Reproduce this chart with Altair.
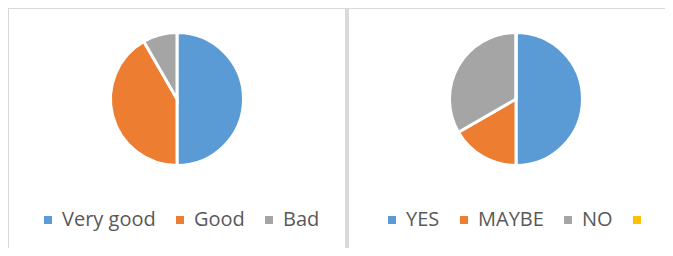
import altair as alt
import pandas as pd

# data
rating_labels = ["Very good", "Good", "Bad"]
rating_counts = [12, 10, 2]
answer_labels = ["YES", "MAYBE", "NO", ""]
answer_counts = [6, 2, 4, 0]

office_colors = ["#5B9BD5", "#ED7D31", "#A5A5A5", "#FFC000"]

rating_df = pd.DataFrame({"rating": rating_labels, "count": rating_counts,
                          "idx": list(range(len(rating_labels)))})
answer_df = pd.DataFrame({"answer": answer_labels, "count2": answer_counts,
                          "idx2": list(range(len(answer_labels)))})
deco = pd.DataFrame({"k": [0]})

W = 657
H = 240
BORDER = "#D9D9D9"

def legend(x):
    return alt.Legend(title=None, orient="none", legendX=x, legendY=202,
                      direction="horizontal", symbolType="square", symbolSize=64,
                      symbolStrokeWidth=0, labelFont="Open Sans", labelFontSize=20,
                      labelColor="#595959", labelOffset=4, columnPadding=14,
                      padding=0)

left_pie = alt.Chart(rating_df).mark_arc(outerRadius=66.5, stroke="white", strokeWidth=3).encode(
    theta=alt.Theta("count:Q", stack=True),
    color=alt.Color("rating:N", scale=alt.Scale(domain=rating_labels, range=office_colors[:3]),
                    legend=legend(30)),
    order=alt.Order("idx:Q"),
    x=alt.value(169), y=alt.value(91),
)
right_pie = alt.Chart(answer_df).mark_arc(outerRadius=66.5, stroke="white", strokeWidth=3).encode(
    theta=alt.Theta("count2:Q", stack=True),
    color=alt.Color("answer:N", scale=alt.Scale(domain=answer_labels, range=office_colors),
                    legend=legend(374)),
    order=alt.Order("idx2:Q"),
    x=alt.value(508), y=alt.value(91),
)

top_line = alt.Chart(deco).mark_rule(color=BORDER, strokeWidth=1).encode(
    x=alt.value(0), x2=alt.value(W), y=alt.value(0.5))
left_side = alt.Chart(deco).mark_rule(color=BORDER, strokeWidth=1).encode(
    x=alt.value(0.5), y=alt.value(0), y2=alt.value(H))
divider = alt.Chart(deco).mark_rule(color=BORDER, strokeWidth=4).encode(
    x=alt.value(339), y=alt.value(0), y2=alt.value(H))

chart = alt.layer(top_line, left_side, divider, left_pie, right_pie).resolve_scale(
    color="independent", theta="independent").resolve_legend(color="independent").properties(
    width=W, height=H, padding=0,
    autosize=alt.AutoSizeParams(type="none")).configure_view(stroke=None)

chart.save("out.html", embed_options={"renderer": "svg", "actions": False})
